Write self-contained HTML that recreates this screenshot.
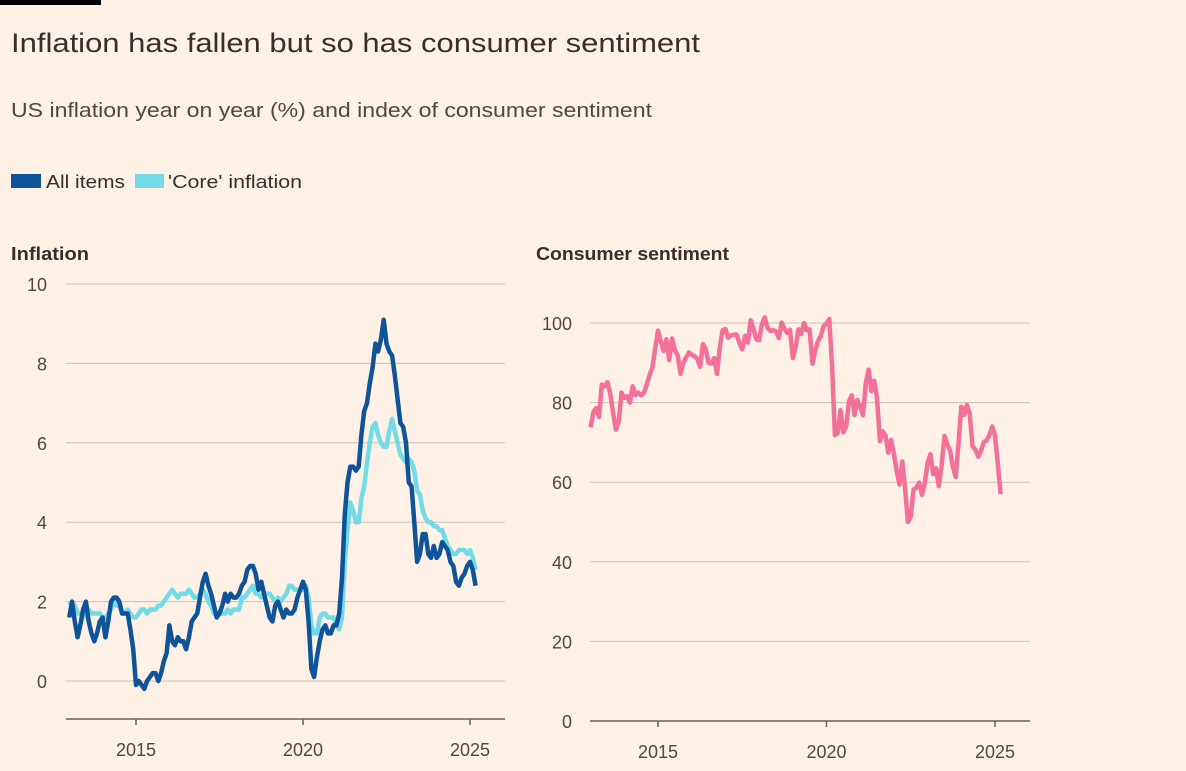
<!DOCTYPE html>
<html><head><meta charset="utf-8"><style>
body{margin:0;background:#fff1e5;width:1186px;height:766px;overflow:hidden;font-family:"Liberation Sans",sans-serif;color:#33302e}
svg text{font-family:"Liberation Sans",sans-serif}
</style></head><body>
<svg width="1186" height="766" xmlns="http://www.w3.org/2000/svg">
<rect x="0" y="0" width="101" height="5" fill="#000"/>
<text x="11" y="52" font-size="27" fill="#33302e" textLength="689" lengthAdjust="spacingAndGlyphs">Inflation has fallen but so has consumer sentiment</text>
<text x="11" y="117" font-size="20" fill="#4d4845" textLength="641" lengthAdjust="spacingAndGlyphs">US inflation year on year (%) and index of consumer sentiment</text>
<g>
<rect x="11" y="174" width="30" height="14" fill="#0f5499"/>
<text x="46" y="188" font-size="18" fill="#33302e" textLength="79" lengthAdjust="spacingAndGlyphs">All items</text>
<rect x="135" y="174" width="29" height="14" fill="#72dbe8"/>
<text x="168" y="188" font-size="18" fill="#33302e" textLength="134" lengthAdjust="spacingAndGlyphs">'Core' inflation</text>
</g>
<text x="11" y="260" font-size="18" font-weight="bold" fill="#33302e" textLength="78" lengthAdjust="spacingAndGlyphs">Inflation</text>
<text x="536" y="260" font-size="18" font-weight="bold" fill="#33302e" textLength="193" lengthAdjust="spacingAndGlyphs">Consumer sentiment</text>
<g id="left"></g>
<g id="right"></g>
</svg>
<script>
const allItems=[1.6,2.0,1.5,1.1,1.4,1.8,2.0,1.5,1.2,1.0,1.2,1.5,
1.6,1.1,1.5,2.0,2.1,2.1,2.0,1.7,1.7,1.7,1.3,0.8,
-0.1,0.0,-0.1,-0.2,0.0,0.1,0.2,0.2,0.0,0.2,0.5,0.7,
1.4,1.0,0.9,1.1,1.0,1.0,0.8,1.1,1.5,1.6,1.7,2.1,
2.5,2.7,2.4,2.2,1.9,1.6,1.7,1.9,2.2,2.0,2.2,2.1,
2.1,2.2,2.4,2.5,2.8,2.9,2.9,2.7,2.3,2.5,2.2,1.9,
1.6,1.5,1.9,2.0,1.8,1.6,1.8,1.7,1.7,1.8,2.1,2.3,
2.5,2.3,1.5,0.3,0.1,0.6,1.0,1.3,1.4,1.2,1.2,1.4,
1.4,1.7,2.6,4.2,5.0,5.4,5.4,5.3,5.4,6.2,6.8,7.0,
7.5,7.9,8.5,8.3,8.6,9.1,8.5,8.3,8.2,7.7,7.1,6.5,
6.4,6.0,5.0,4.9,4.0,3.0,3.2,3.7,3.7,3.2,3.1,3.4,
3.1,3.2,3.5,3.4,3.3,3.0,2.9,2.5,2.4,2.6,2.7,2.9,
3.0,2.8,2.4];
const coreInflation=[1.9,2.0,1.9,1.7,1.7,1.6,1.7,1.8,1.7,1.7,1.7,1.7,
1.6,1.6,1.7,1.8,2.0,1.9,1.9,1.7,1.7,1.8,1.7,1.6,
1.6,1.7,1.8,1.8,1.7,1.8,1.8,1.8,1.9,1.9,2.0,2.1,
2.2,2.3,2.2,2.1,2.2,2.2,2.2,2.3,2.2,2.1,2.1,2.2,
2.3,2.2,2.0,1.9,1.7,1.7,1.7,1.7,1.7,1.8,1.7,1.8,
1.8,1.8,2.1,2.1,2.2,2.3,2.4,2.2,2.2,2.1,2.2,2.2,
2.2,2.1,2.0,2.1,2.0,2.1,2.2,2.4,2.4,2.3,2.3,2.3,
2.3,2.4,2.1,1.4,1.2,1.2,1.6,1.7,1.7,1.6,1.6,1.6,
1.4,1.3,1.6,3.0,3.8,4.5,4.3,4.0,4.0,4.6,4.9,5.5,
6.0,6.4,6.5,6.2,6.0,5.9,5.9,6.3,6.6,6.3,6.0,5.7,
5.6,5.5,5.6,5.5,5.3,4.8,4.7,4.3,4.1,4.0,4.0,3.9,
3.9,3.8,3.8,3.6,3.4,3.3,3.2,3.2,3.3,3.3,3.3,3.2,
3.3,3.1,2.8];
const sentiment=[73.8,77.6,78.6,76.4,84.5,84.1,85.1,82.1,77.5,73.2,75.1,82.5,
81.2,81.6,80.0,84.1,81.9,82.5,81.8,82.5,84.6,86.9,88.8,93.6,
98.1,95.4,93.0,95.9,90.7,96.1,93.1,91.9,87.2,90.0,91.3,92.6,
92.0,91.7,91.0,89.0,94.7,93.5,90.0,89.8,91.2,87.2,93.8,98.2,
98.5,96.3,96.9,97.0,97.1,95.0,93.4,96.8,95.1,100.7,98.5,95.9,
95.7,99.7,101.4,98.8,98.0,98.2,97.9,96.2,100.1,98.6,97.5,98.3,
91.2,93.8,98.4,97.2,100.0,98.2,98.4,89.8,93.2,95.5,96.8,99.3,
99.8,101.0,89.1,71.8,72.3,78.1,72.5,74.1,80.4,81.8,76.9,80.7,
79.0,76.8,84.9,88.3,82.9,85.5,81.2,70.3,72.8,71.7,67.4,70.6,
67.2,62.8,59.4,65.2,58.4,50.0,51.5,58.2,58.6,59.9,56.8,59.7,
64.9,67.0,62.0,63.5,59.0,64.2,71.6,69.5,67.9,63.8,61.3,69.7,
79.0,76.9,79.4,77.2,69.1,68.2,66.4,67.9,70.1,70.5,71.8,74.0,
71.7,64.7,57.0];
const startYear=2013;
const xTickYears=[2015,2020,2025];
const leftYTicks=[0,2,4,6,8,10];
const rightYTicks=[0,20,40,60,80,100];

const NS='http://www.w3.org/2000/svg';
function mk(p,t,a){const e=document.createElementNS(NS,t);for(const k in a)e.setAttribute(k,a[k]);p.appendChild(e);return e;}

function panel(g,cfg){
  const x=yr=>cfg.x0+(yr-2015)*cfg.pxYear;
  const y=v=>cfg.yTop+(cfg.yMax-v)*cfg.pxUnit;
  cfg.yTicks.forEach(v=>{
    const l=mk(g,'line',{x1:cfg.gl,x2:cfg.gr,y1:y(v),y2:y(v),stroke:'#ccc1b7','stroke-width':1});
    
    
    const t=mk(g,'text',{x:cfg.labelX,y:y(v)+7,'font-size':18,'text-anchor':'end',fill:'#4d4845'});
    t.textContent=v;
    
    
  });
  const ax=mk(g,'line',{x1:cfg.gl,x2:cfg.gr,y1:cfg.axisY,y2:cfg.axisY,stroke:'#66605c','stroke-width':1.5});
  
  
  xTickYears.forEach(yr=>{
    const tk=mk(g,'line',{x1:x(yr),x2:x(yr),y1:cfg.axisY,y2:cfg.axisY+6,stroke:'#66605c','stroke-width':1.5});
    
    
    const t=mk(g,'text',{x:x(yr),y:cfg.axisY+37,'font-size':18,'text-anchor':'middle',fill:'#4d4845'});
    t.textContent=yr;
    
    
  });
  cfg.series.forEach(s=>{
    const d=s.data.map((v,i)=>(i?'L':'M')+x(startYear+i/12).toFixed(1)+','+y(v).toFixed(1)).join('');
    const p=mk(g,'path',{d:d,fill:'none',stroke:s.color,'stroke-width':4.5,'stroke-linejoin':'round'});
    
    
  });
}
panel(document.getElementById('left'),{x0:136,pxYear:33.4,yTop:284,yMax:10,pxUnit:39.7,gl:66,gr:505,labelX:47,axisY:719,yTicks:leftYTicks,
 series:[{data:coreInflation,color:'#72dbe8',name:'core-inflation-line'},{data:allItems,color:'#0f5499',name:'all-items-line'}]});
panel(document.getElementById('right'),{x0:658,pxYear:33.7,yTop:323,yMax:100,pxUnit:3.98,gl:590,gr:1030,labelX:572,axisY:721,yTicks:rightYTicks,
 series:[{data:sentiment,color:'#f2709a',name:'sentiment-line'}]});
</script>
</body></html>
